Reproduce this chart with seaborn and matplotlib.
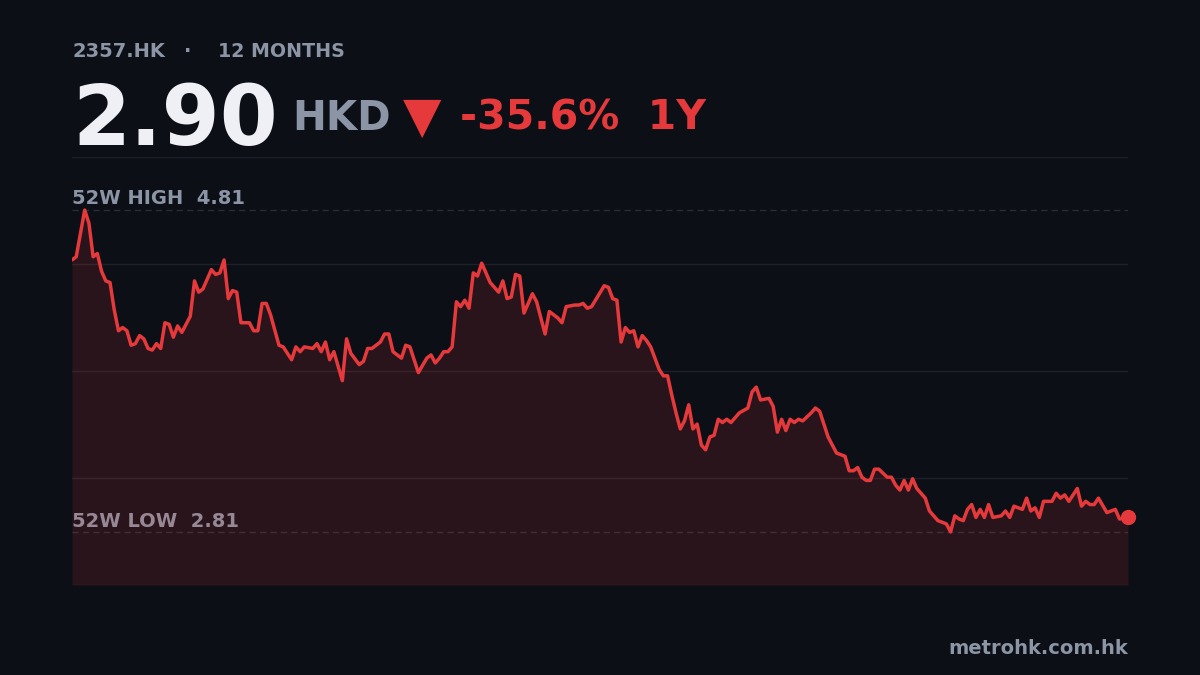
import matplotlib
matplotlib.use('Agg')
import matplotlib.pyplot as plt
import numpy as np
import seaborn as sns


ticker = '2357.HK'
period = '12 MONTHS'
currency = 'HKD'
window = '1Y'
site = 'metrohk.com.hk'

# trading day index -> close (HKD)
days = [0, 1, 3, 4, 5, 6, 7, 8, 9, 10, 11, 12, 13, 14, 15, 16, 17, 18, 19, 20,
        21, 22, 23, 24, 25, 26, 28, 29, 30, 31, 33, 34, 35, 36, 37, 38, 39, 40, 42, 43,
        44, 45, 46, 47, 49, 50, 52, 53, 54, 55, 57, 58, 59, 60, 61, 62, 64, 65, 66, 68,
        69, 70, 71, 73, 74, 75, 76, 77, 78, 79, 80, 82, 84, 85, 86, 87, 88, 89, 90, 91,
        92, 93, 94, 95, 96, 97, 99, 101, 102, 103, 104, 105, 106, 107, 109, 110, 112, 113, 115, 116,
        117, 119, 120, 121, 122, 123, 126, 127, 128, 129, 130, 131, 132, 133, 134, 135, 136, 137, 139, 140,
        141, 142, 143, 144, 145, 146, 147, 148, 149, 150, 151, 152, 153, 154, 155, 156, 158, 160, 161, 162,
        163, 165, 166, 167, 168, 169, 170, 171, 172, 173, 175, 176, 177, 179, 181, 183, 184, 185, 186, 187,
        188, 189, 190, 191, 193, 194, 195, 196, 197, 198, 199, 200, 202, 203, 204, 205, 207, 208, 209, 210,
        211, 212, 213, 214, 215, 216, 217, 218, 220, 221, 222, 223, 225, 226, 227, 228, 229, 230, 232, 233,
        234, 235, 236, 238, 239, 240, 241, 242, 243, 245, 247, 248, 250]
close = [4.50, 4.52, 4.81, 4.73, 4.52, 4.54, 4.43, 4.37, 4.36, 4.19, 4.06, 4.08, 4.06, 3.97, 3.98, 4.03, 4.01, 3.95, 3.94, 3.98,
         3.95, 4.11, 4.10, 4.02, 4.09, 4.05, 4.15, 4.37, 4.30, 4.32, 4.44, 4.41, 4.42, 4.50, 4.26, 4.31, 4.30, 4.11, 4.11, 4.06,
         4.06, 4.23, 4.23, 4.16, 3.97, 3.96, 3.88, 3.96, 3.93, 3.96, 3.95, 3.98, 3.93, 3.99, 3.88, 3.93, 3.75, 4.01, 3.92, 3.85,
         3.87, 3.95, 3.95, 3.99, 4.04, 4.04, 3.93, 3.91, 3.89, 3.97, 3.96, 3.80, 3.89, 3.91, 3.86, 3.89, 3.93, 3.93, 3.96, 4.24,
         4.21, 4.25, 4.20, 4.42, 4.40, 4.48, 4.36, 4.30, 4.37, 4.26, 4.27, 4.41, 4.40, 4.17, 4.29, 4.24, 4.04, 4.18, 4.14, 4.11,
         4.21, 4.22, 4.22, 4.23, 4.20, 4.21, 4.34, 4.33, 4.26, 4.25, 3.99, 4.08, 4.05, 4.06, 3.96, 4.03, 4.00, 3.96, 3.82, 3.78,
         3.78, 3.66, 3.55, 3.45, 3.50, 3.60, 3.45, 3.48, 3.35, 3.32, 3.40, 3.41, 3.51, 3.49, 3.51, 3.49, 3.55, 3.58, 3.68, 3.71,
         3.63, 3.64, 3.59, 3.43, 3.51, 3.44, 3.51, 3.49, 3.51, 3.50, 3.55, 3.58, 3.56, 3.40, 3.30, 3.28, 3.19, 3.19, 3.21, 3.15,
         3.13, 3.13, 3.20, 3.20, 3.15, 3.15, 3.10, 3.07, 3.13, 3.07, 3.14, 3.08, 3.02, 2.94, 2.91, 2.88, 2.86, 2.81, 2.91, 2.89,
         2.88, 2.95, 2.98, 2.90, 2.95, 2.90, 2.98, 2.90, 2.91, 2.94, 2.90, 2.97, 2.95, 3.02, 2.94, 2.96, 2.90, 3.00, 3.00, 3.05,
         3.02, 3.04, 3.00, 3.08, 2.97, 3.00, 2.98, 2.98, 3.02, 2.93, 2.95, 2.89, 2.90]

BG = '#0c0f16'
RED = '#e5393b'
GREY = '#8b95a5'
WHITE = '#eef0f6'
GRID = '#1d212a'

sns.set_theme(style='dark', rc={'axes.facecolor': BG, 'figure.facecolor': BG})
plt.rcParams['font.family'] = ['DejaVu Sans']

fig = plt.figure(figsize=(12, 6.75), dpi=100)
ax = fig.add_axes([72 / 1200, 1 - 585 / 675, 1056 / 1200, 428 / 675])

hi, lo = max(close), min(close)
pad = (hi - lo) * 0.165
ymin, ymax = lo - pad, hi + pad
ax.set_xlim(days[0], days[-1])
ax.set_ylim(ymin, ymax)

# grid (the top one doubles as the header rule)
for g in np.linspace(ymin, ymax, 5):
    ax.axhline(g, color=GRID, lw=1, zorder=0)

# 52 week high / low markers - sit under the fill
ax.axhline(hi, color=GREY, alpha=0.22, lw=1, dashes=(4.5, 3), zorder=1)
ax.axhline(lo, color=GREY, alpha=0.22, lw=1, dashes=(4.5, 3), zorder=1)
ytr = ax.get_yaxis_transform()
ax.annotate(f'52W HIGH  {hi:.2f}', xy=(0, hi), xycoords=ytr, xytext=(0, 4.3),
            textcoords='offset points', va='baseline', ha='left',
            fontsize=14, fontweight='bold', color=GREY, zorder=1, annotation_clip=False)
ax.annotate(f'52W LOW  {lo:.2f}', xy=(0, lo), xycoords=ytr, xytext=(0, 3.3),
            textcoords='offset points', va='baseline', ha='left',
            fontsize=14, fontweight='bold', color=GREY, zorder=1, annotation_clip=False)

ax.fill_between(days, close, ymin, color=RED, alpha=0.14, lw=0, zorder=2)
sns.lineplot(x=days, y=close, color=RED, lw=2.5, ax=ax, zorder=3)
ax.plot(days[-1], close[-1], 'o', ms=10, color=RED, clip_on=False, zorder=4)

ax.set_xticks([])
ax.set_yticks([])
ax.set_xlabel('')
ax.set_ylabel('')
for s in ax.spines.values():
    s.set_visible(False)

# header
last = close[-1]
chg = (last / close[0] - 1) * 100


def fy(py):
    return 1 - py / 675


fig.text(72 / 1200, fy(57), ticker, fontsize=14, fontweight='bold', color=GREY)
fig.text(188 / 1200, fy(57), '·', fontsize=14, fontweight='bold', color=GREY, ha='center')
fig.text(218 / 1200, fy(57), period, fontsize=13.7, fontweight='bold', color=GREY)
fig.text(72 / 1200, fy(145), f'{last:.2f}', fontsize=60, fontweight='bold', color=WHITE)
fig.text(292 / 1200, fy(130), currency, fontsize=29, fontweight='bold', color=GREY)
fig.text(422 / 1200, fy(118), '▼', fontsize=36, color=RED, ha='center', va='center')
fig.text(460 / 1200, fy(130), f'{chg:.1f}%  {window}', fontsize=29.5, fontweight='bold', color=RED)

fig.text(1128 / 1200, fy(654), site, fontsize=14, fontweight='bold', color=GREY, ha='right')

fig.savefig('out.png', dpi=100, facecolor=BG)
